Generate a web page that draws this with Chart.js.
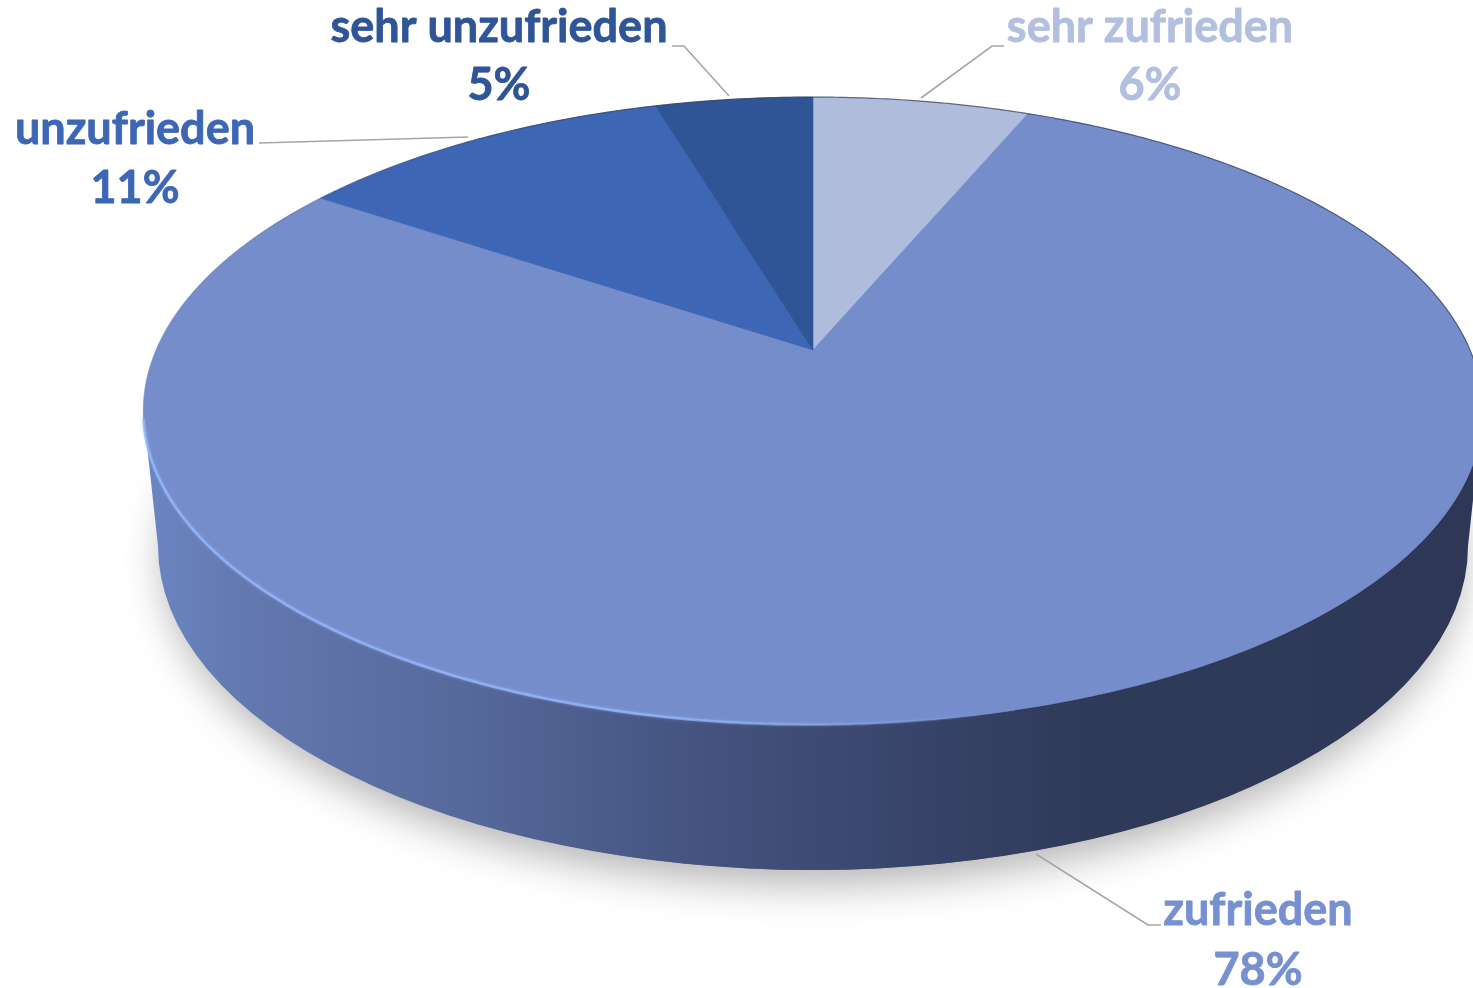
<!DOCTYPE html>
<html lang="de">
<head>
<meta charset="utf-8">
<style>html,body{margin:0;padding:0;background:#fff;overflow:hidden}canvas{display:block}</style>
<script src="https://cdn.jsdelivr.net/npm/chart.js@4/dist/chart.umd.min.js"></script>
</head>
<body>
<canvas id="c" width="1473" height="988"></canvas>
<script>
const categories = ['sehr zufrieden', 'zufrieden', 'unzufrieden', 'sehr unzufrieden'];
const shares = [6.3, 78.1, 11.0, 4.6];
const sliceColors = ['#b0bcdc', '#768dcc', '#3d67b5', '#2f5597'];
const labelColors = ['#b3bfdf', '#7690d0', '#3d67b5', '#2f5597'];

// Perspective of the disc: apex, scale, foreshortening
const VIEW = {cx: 813, cy: 350, a: 657, b: 302, k: -0.194};
const BASE = {cx: 813, cy: 546, rx: 655, ry: 324};
const LABEL_POS = [
  {x: 1150, y1: 42, y2: 100},
  {x: 1258, y1: 925, y2: 985},
  {x: 135, y1: 144, y2: 203},
  {x: 499, y1: 42, y2: 100}
];
const LEADERS = [
  [[1004, 46], [992, 46], [921, 98]],
  [[1161, 925], [1148, 925], [1036, 854]],
  [[259, 143], [468, 137]],
  [[672, 46], [684, 46], [729, 96]]
];

function project(t) {
  const X = Math.cos(t), Y = Math.sin(t), w = 1 + VIEW.k * Y;
  return [VIEW.cx + VIEW.a * X / w, VIEW.cy + VIEW.b * Y / w];
}
function rimPath(ctx, t0, t1, move) {
  const n = Math.max(8, Math.ceil(Math.abs(t1 - t0) * 120));
  for (let i = 0; i <= n; i++) {
    const p = project(t0 + (t1 - t0) * i / n);
    if (i === 0 && move) ctx.moveTo(p[0], p[1]); else ctx.lineTo(p[0], p[1]);
  }
}

const pie3d = {
  id: 'pie3d',
  beforeDatasetsDraw(chart) {
    const ctx = chart.ctx;
    const arcs = chart.getDatasetMeta(0).data;

    // soft floor shadow
    ctx.save();
    ctx.shadowColor = 'rgba(0,0,0,0.3)';
    ctx.shadowBlur = 42;
    ctx.shadowOffsetY = 14;
    ctx.fillStyle = '#777';
    ctx.beginPath();
    ctx.ellipse(BASE.cx, BASE.cy, BASE.rx - 6, BASE.ry, 0, 0, Math.PI * 2);
    ctx.fill();
    ctx.restore();

    // side wall: base front edge, then the front rim back across
    const g = ctx.createLinearGradient(143, 0, 1473, 0);
    g.addColorStop(0, '#6b86c4');
    g.addColorStop(0.07, '#6479b0');
    g.addColorStop(0.25, '#55689a');
    g.addColorStop(0.42, '#44537f');
    g.addColorStop(0.6, '#364267');
    g.addColorStop(0.72, '#2f3a59');
    g.addColorStop(1, '#2e3856');
    ctx.beginPath();
    ctx.ellipse(BASE.cx, BASE.cy, BASE.rx, BASE.ry, 0, Math.PI, 0, true);
    rimPath(ctx, 0.195, Math.PI - 0.195, false);
    ctx.closePath();
    ctx.fillStyle = g;
    ctx.fill();

    // dark line under the disc edge on the right
    ctx.beginPath();
    rimPath(ctx, 0.1, Math.PI * 0.42, true);
    ctx.lineWidth = 2;
    ctx.strokeStyle = 'rgba(35,45,75,0.8)';
    ctx.stroke();

    // top face, one slice per chart arc
    arcs.forEach((arc, i) => {
      const s = arc.startAngle, e = arc.endAngle;
      ctx.beginPath();
      ctx.moveTo(VIEW.cx, VIEW.cy);
      rimPath(ctx, s, e, false);
      ctx.closePath();
      ctx.fillStyle = sliceColors[i];
      ctx.fill();
      ctx.lineWidth = 0.6;
      ctx.strokeStyle = sliceColors[i];
      ctx.stroke();
    });

    // thin dark outline on back rim, fading toward the left
    const o = ctx.createLinearGradient(150, 0, 560, 0);
    o.addColorStop(0, 'rgba(50,60,90,0)');
    o.addColorStop(1, 'rgba(50,60,90,0.7)');
    ctx.beginPath();
    rimPath(ctx, Math.PI * 1.02, Math.PI * 2.02, true);
    ctx.lineWidth = 1.2;
    ctx.strokeStyle = o;
    ctx.stroke();

    // bright bevel on front-left rim
    const h = ctx.createLinearGradient(145, 420, 1000, 730);
    h.addColorStop(0, 'rgba(150,185,255,0.75)');
    h.addColorStop(0.65, 'rgba(150,185,255,0.75)');
    h.addColorStop(1, 'rgba(150,185,255,0)');
    ctx.save();
    ctx.shadowColor = 'rgba(150,185,255,0.6)';
    ctx.shadowBlur = 3;
    ctx.beginPath();
    rimPath(ctx, Math.PI * 0.93, Math.PI * 0.42, true);
    ctx.lineWidth = 2.6;
    ctx.strokeStyle = h;
    ctx.stroke();
    ctx.restore();

    // leader lines
    ctx.strokeStyle = '#a6a6a6';
    ctx.lineWidth = 1.6;
    LEADERS.forEach(pts => {
      ctx.beginPath();
      pts.forEach((p, i) => i ? ctx.lineTo(p[0], p[1]) : ctx.moveTo(p[0], p[1]));
      ctx.stroke();
    });

    // labels
    const total = shares.reduce((a, b) => a + b, 0);
    ctx.font = 'bold 45px Lato, Carlito, sans-serif';
    ctx.textAlign = 'center';
    ctx.textBaseline = 'alphabetic';
    ctx.lineJoin = 'round';
    ctx.lineWidth = 0.8;
    categories.forEach((name, i) => {
      ctx.fillStyle = labelColors[i];
      ctx.strokeStyle = labelColors[i];
      const pct = Math.round(shares[i] / total * 100) + '%';
      ctx.fillText(name, LABEL_POS[i].x, LABEL_POS[i].y1);
      ctx.strokeText(name, LABEL_POS[i].x, LABEL_POS[i].y1);
      ctx.fillText(pct, LABEL_POS[i].x, LABEL_POS[i].y2);
      ctx.strokeText(pct, LABEL_POS[i].x, LABEL_POS[i].y2);
    });
    return false;
  }
};

new Chart(document.getElementById('c'), {
  type: 'pie',
  data: {
    labels: categories,
    datasets: [{data: shares, backgroundColor: sliceColors, borderWidth: 0}]
  },
  options: {
    responsive: false,
    animation: false,
    events: [],
    plugins: {legend: {display: false}, tooltip: {enabled: false}}
  },
  plugins: [pie3d]
});
</script>
</body>
</html>
